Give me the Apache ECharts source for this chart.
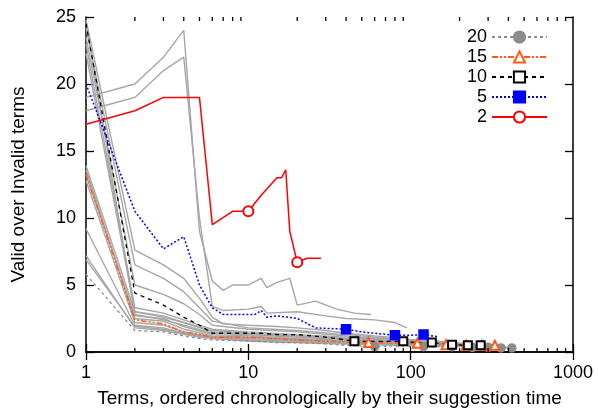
<!DOCTYPE html>
<html>
<head>
<meta charset="utf-8">
<script src="https://cdn.jsdelivr.net/npm/echarts@6/dist/echarts.min.js"></script>
<style>
html,body{margin:0;padding:0;background:#fff;}
#chart{width:598px;height:413px;}
</style>
</head>
<body>
<div id="chart"></div>
<script>
// highlighted runs: x, value, and the x positions that carry a marker
const x20 = [1,2,3,4,5,6,8,10,15,20,30,40,60,80,120,180,240,300,360,420];
const y20 = [5.8,1.6,1.5,1.2,1.0,0.9,0.85,0.85,0.7,0.7,0.6,0.5,0.4,0.45,0.4,0.4,0.35,0.35,0.3,0.3];
const m20 = [60,120,180,240,300,360,420];

const x15 = [1,2,3,4,5,6,8,10,15,20,30,55,110,165,220,275,330,340];
const y15 = [13.3,2.4,2.1,1.5,1.3,1.1,1.1,1.1,1.0,0.9,0.8,0.7,0.65,0.55,0.5,0.5,0.5,0.5];
const m15 = [55,110,165,220,275,330];

const x10 = [1,2,3,4,5,6,7,10,12,15,20,25,30,40,45,60,90,110,135,180,225,270,290];
const y10 = [24.5,4.4,3.5,2.6,2.0,1.4,1.4,1.4,1.4,1.3,1.3,1.2,1.1,0.9,0.8,0.8,0.8,0.7,0.7,0.55,0.5,0.5,0.5];
const m10 = [45,90,135,180,225,270];

const x5 = [1,2,3,4,5,6,7,10,11,12,13,15,20,26,40,50,60,80,100,120,146];
const y5 = [20,10.5,7.7,8.6,5.0,3.3,2.8,2.8,2.8,3.1,2.6,2.7,2.5,1.8,1.7,1.5,1.4,1.25,1.25,1.3,1.15];
const m5 = [40,80,120];

const x2 = [1,2,3,5,6,8,10,12,15,16,17,18,20,22,23,28];
const y2 = [17,18,19,19,9.5,10.5,10.5,11.7,13.0,13.0,13.6,9.0,6.7,6.9,7.0,7.0];
const m2 = [10,20];

// the other runs, drawn in light gray, as [x, value] pairs
const grayRuns = [
  [[1,24.8],[2,7.6],[3,6.5],[4,5.5],[5,4.0],[6,2.6],[7,2.1],[10,2.0],[15,1.9],[20,1.8],[30,1.6],[40,1.4],[60,1.2],[95,1.0]],
  [[1,24.2],[2,6.5],[3,5.5],[4,4.5],[5,3.3],[6,2.3],[10,1.8],[20,1.6],[40,1.3],[80,1.0],[150,0.8]],
  [[1,23.5],[2,5.0],[3,4.3],[4,3.6],[5,2.8],[6,2.0],[10,1.7],[20,1.5],[50,1.1],[100,0.9],[200,0.7]],
  [[1,23.0],[2,3.3],[3,2.9],[4,2.4],[5,2.0],[6,1.7],[10,1.5],[20,1.3],[60,1.0],[120,0.8],[250,0.6]],
  [[1,22.3],[2,3.0],[3,2.6],[4,2.2],[6,1.6],[10,1.4],[30,1.1],[100,0.8],[300,0.5]],
  [[1,24.6],[2,2.8],[3,2.4],[4,2.0],[6,1.4],[10,1.3],[20,1.2],[50,0.9],[110,0.7]],
  [[1,19],[2,20],[3,22],[4,24],[5,9],[6,5.3],[7,4.6],[8,5.0],[10,5.0],[12,5.5],[13,4.8],[15,5.2],[18,5.5],[20,3.5],[26,3.8],[35,3.2],[45,2.9],[57,2.8]],
  [[1,18],[2,19],[3,21],[4,22],[5,10],[6,3.4],[7,3.1],[10,3.2],[12,3.4],[13,2.9],[20,3.0],[30,2.7],[40,2.5],[60,2.4],[80,2.2],[95,1.8]],
  [[1,13.9],[2,3.0],[3,2.7],[4,2.2],[6,1.5],[10,1.3],[20,1.1],[50,0.9],[100,0.7],[200,0.6],[350,0.4]],
  [[1,13.6],[2,2.5],[3,2.3],[4,1.7],[6,1.2],[10,1.1],[20,0.95],[40,0.8],[100,0.6],[300,0.45]],
  [[1,13.2],[2,2.7],[3,2.5],[4,1.9],[6,1.3],[10,1.2],[20,1.0],[60,0.8],[150,0.6],[400,0.35]],
  [[1,12.8],[2,2.2],[3,2.0],[4,1.5],[6,1.1],[10,1.0],[30,0.8],[80,0.6],[200,0.5]],
  [[1,9.2],[2,2.0],[3,1.8],[4,1.4],[6,1.0],[10,0.9],[30,0.7],[100,0.5],[250,0.4]],
  [[1,7.2],[2,1.8],[3,1.6],[5,1.1],[10,0.8],[40,0.6],[150,0.45]],
  [[1,6.9],[2,1.9],[3,1.7],[5,1.2],[10,0.9],[50,0.6],[120,0.5]]
];

// minor ticks of the log axis
const minorTicks = [2,3,4,5,6,7,8,9,20,30,40,50,60,70,80,90,200,300,400,500,600,700,800,900];

function marked(xs, ys, marks) {
  return xs.map(function (x, i) {
    if (marks.includes(x)) return [x, ys[i]];
    return {value: [x, ys[i]], symbol: 'none'};
  });
}

const series = [];
grayRuns.forEach(function (run, i) {
  series.push({
    name: 'g' + i, type: 'line', data: run, symbol: 'none', silent: true,
    lineStyle: {color: '#a6a6a6', width: 1.4}, z: 1
  });
});

function hl(name, xs, ys, marks, color, dash, symbol, size, lw) {
  return {
    name: name, type: 'line', data: marked(xs, ys, marks),
    symbol: symbol, symbolSize: size, showSymbol: true,
    itemStyle: {color: color, borderColor: color, borderWidth: 1.5},
    lineStyle: {color: color, width: lw, type: dash},
    z: 3
  };
}

series.push(hl('20', x20, y20, m20, '#8c8c8c', [3, 3], 'circle', 8, 1.3));
series.push(hl('15', x15, y15, m15, '#ff5a1a', [6, 2, 2, 2, 2, 2], 'emptyTriangle', 9, 1.5));
series.push(hl('10', x10, y10, m10, '#000000', [4, 4], 'emptyRect', 8, 1.3));
series.push(hl('5', x5, y5, m5, '#0000ff', [2, 2], 'rect', 9, 1.5));
series.push(hl('2', x2, y2, m2, '#ff0000', 'solid', 'emptyCircle', 10, 1.5));

series.push({
  type: 'custom', silent: true, z: 10, clip: false,
  data: minorTicks.map(function (v) { return [v, 0]; }),
  encode: {x: 0, y: 1},
  renderItem: function (params, api) {
    const v = api.value(0);
    const b = api.coord([v, 0]);
    const t = api.coord([v, 25]);
    const st = {stroke: '#000', lineWidth: 1.3};
    return {type: 'group', children: [
      {type: 'line', shape: {x1: b[0], y1: b[1], x2: b[0], y2: b[1] - 4}, style: st},
      {type: 'line', shape: {x1: t[0], y1: t[1], x2: t[0], y2: t[1] + 4}, style: st}
    ]};
  }
});

const tickFont = {fontFamily: 'Liberation Sans', fontSize: 18, color: '#000'};
const titleFont = {fontFamily: 'Liberation Sans', fontSize: 19, color: '#000'};
const frame = {show: true, lineStyle: {color: '#000', width: 1.5}};
const major = {show: true, inside: true, length: 8, lineStyle: {color: '#000', width: 1.3}};

const chart = echarts.init(document.getElementById('chart'), null, {renderer: 'canvas'});
chart.setOption({
  animation: false,
  backgroundColor: '#fff',
  grid: {left: 86, right: 25, top: 17, bottom: 58, containLabel: false},
  legend: {
    data: ['20', '15', '10', '5', '2'],
    orient: 'vertical', align: 'right',
    right: 50, top: 28, padding: 0,
    itemWidth: 55, itemHeight: 14, itemGap: 2,
    textStyle: tickFont
  },
  xAxis: [{
    type: 'log', min: 1, max: 1000, logBase: 10,
    axisLine: frame, axisTick: major,
    axisLabel: Object.assign({margin: 12, formatter: function (v) { return String(v); }}, tickFont),
    splitLine: {show: false},
    name: 'Terms, ordered chronologically by their suggestion time',
    nameLocation: 'middle', nameGap: 37,
    nameTextStyle: titleFont
  }, {
    type: 'log', min: 1, max: 1000, logBase: 10, position: 'top',
    axisLine: frame, axisTick: major,
    axisLabel: {show: false},
    splitLine: {show: false}
  }],
  yAxis: [{
    type: 'value', min: 0, max: 25, interval: 5,
    axisLine: frame, axisTick: major,
    axisLabel: Object.assign({margin: 10}, tickFont),
    splitLine: {show: false},
    name: 'Valid over Invalid terms',
    nameLocation: 'middle', nameGap: 58,
    nameTextStyle: titleFont
  }, {
    type: 'value', min: 0, max: 25, interval: 5, position: 'right',
    axisLine: frame, axisTick: major,
    axisLabel: {show: false},
    splitLine: {show: false}
  }],
  series: series
});
</script>
</body>
</html>
